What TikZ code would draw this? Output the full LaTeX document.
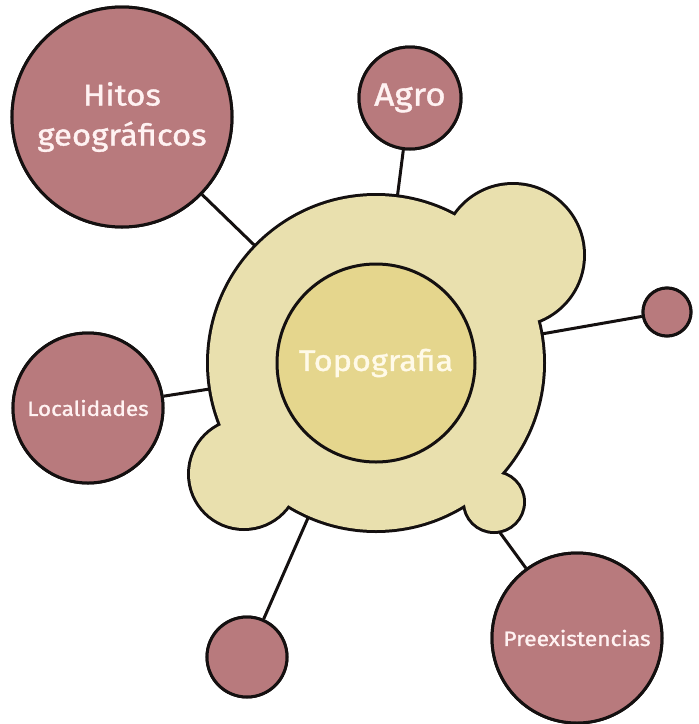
\documentclass[tikz,border=0pt]{standalone}
\usepackage{fontspec}
\setmainfont{Fira Sans}
\newfontfamily\lblfont{Fira Sans}[FakeBold=1.2,FakeStretch=1.1]
\definecolor{mauve}{RGB}{184,122,125}
\definecolor{blobfill}{RGB}{233,224,174}
\definecolor{innerfill}{RGB}{229,214,141}
\definecolor{pinkwhite}{RGB}{255,242,242}
\definecolor{creamwhite}{RGB}{255,250,232}
\definecolor{edge}{RGB}{20,16,16}
\tikzset{
  outer/.style={circle, draw=edge, line width=3pt, fill=mauve, inner sep=0pt, text=pinkwhite, align=center},
  link/.style={draw=edge, line width=3pt},
  blobedge/.style={draw=edge, line width=6pt},
  blobfillst/.style={fill=blobfill},
}
\begin{document}
\begin{tikzpicture}[x=1pt,y=-1pt]
\useasboundingbox (0,0) rectangle (699,724);
\coordinate (c) at (376,363);
% outer nodes (declared first for links)
\node[outer, minimum size=220pt] (hitos) at (122,117) {};
\node[outer, minimum size=102pt] (agro) at (410,98) {};
\node[outer, minimum size=48pt] (dotr) at (667,312) {};
\node[outer, minimum size=150pt] (loc) at (88,408) {};
\node[outer, minimum size=80pt] (dotb) at (247,657) {};
\node[outer, minimum size=170pt] (pre) at (577,638) {};
% links towards the centre
\foreach \n in {hitos,agro,dotr,loc,dotb,pre} \draw[link] (\n) -- (c);
% blob outline (union of circles)
\draw[blobedge] (c) circle (167) (513,255) circle (70) (244,474) circle (54) (494,502) circle (29);
\fill[blobfillst] (c) circle (167) (513,255) circle (70) (244,474) circle (54) (494,502) circle (29);
% inner circle
\node[circle, draw=edge, line width=3pt, fill=innerfill, minimum size=198pt, inner sep=0pt, text=creamwhite,
  font=\lblfont\fontsize{29.5}{32}\selectfont] (topo) at (c) {Topografia};
% redraw outer nodes on top with text
\node[outer, minimum size=220pt, font=\lblfont\fontsize{30}{40}\selectfont] at (hitos) {Hitos\\geográficos};
\node[outer, minimum size=102pt, font=\lblfont\fontsize{32}{34}\selectfont] at (agro) {Agro};
\node[outer, minimum size=48pt] at (dotr) {};
\node[outer, minimum size=150pt, font=\lblfont\fontsize{20.5}{24}\selectfont] at (loc) {Localidades};
\node[outer, minimum size=80pt] at (dotb) {};
\node[outer, minimum size=170pt, font=\lblfont\fontsize{20.7}{24}\selectfont] at (pre) {Preexistencias};
\end{tikzpicture}
\end{document}
